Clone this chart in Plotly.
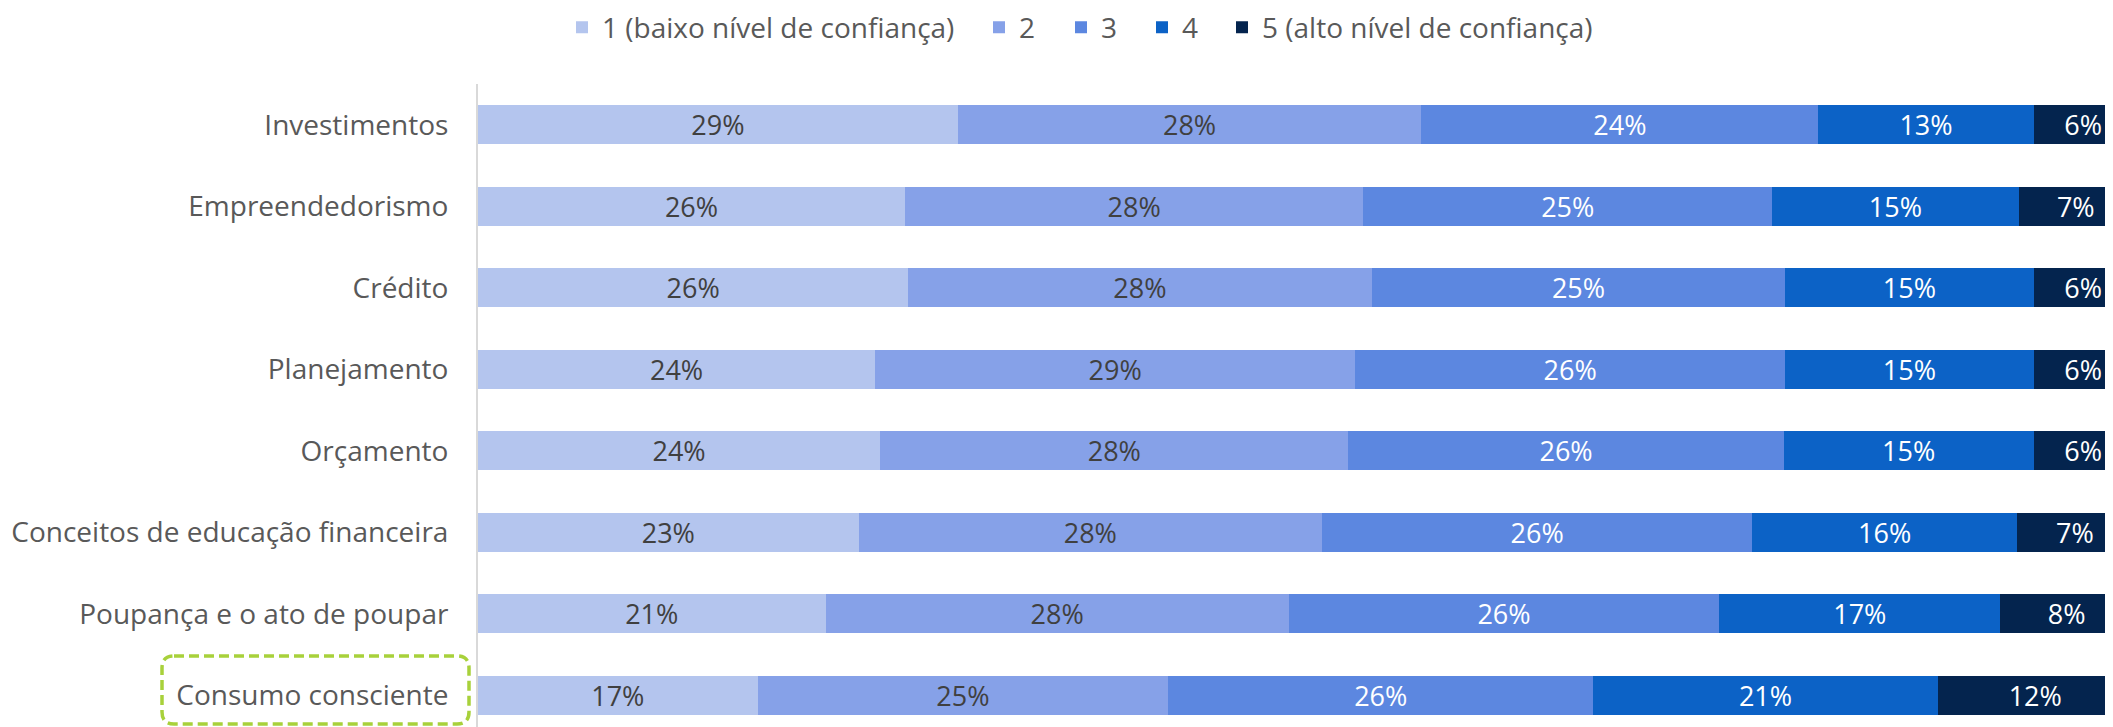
import plotly.graph_objects as go

categories = [
    "Investimentos",
    "Empreendedorismo",
    "Crédito",
    "Planejamento",
    "Orçamento",
    "Conceitos de educação financeira",
    "Poupança e o ato de poupar",
    "Consumo consciente",
]
series_names = [
    "1 (baixo nível de confiança)",
    "2",
    "3",
    "4",
    "5 (alto nível de confiança)",
]
level1 = [29.0, 25.8, 26.0, 24.0, 24.3, 23.0, 21.0, 16.9]
level2 = [28.0, 27.7, 28.0, 29.0, 28.3, 28.0, 28.0, 24.8]
level3 = [24.0, 24.7, 25.0, 26.0, 26.3, 26.0, 26.0, 25.7]
level4 = [13.0, 14.9, 15.0, 15.0, 15.1, 16.0, 17.0, 20.8]
level5 = [6.0, 6.9, 6.0, 6.0, 6.0, 7.0, 8.0, 11.8]

colors = ["#B4C5EE", "#86A1E8", "#5C87E0", "#0C62C6", "#04244E"]
text_colors = ["#404040", "#404040", "#FFFFFF", "#FFFFFF", "#FFFFFF"]

FONT = "Open Sans, Liberation Sans, sans-serif"

# page has an 8px body margin: the figure starts at page (8, 8)
OFF = 8
W, H = 2113 - OFF, 727 - OFF
ml, mt, mb, mr = 478 - OFF, 84 - OFF, 0, 0
pw, ph = W - ml - mr, H - mt - mb


def px_x(page_x):
    return (page_x - OFF - ml) / pw


def px_y(page_y):
    return (H - mb - (page_y - OFF)) / ph


legend_names = ["legend", "legend2", "legend3", "legend4", "legend5"]
# page x where each legend item begins (text begins 40px later)
legend_item_x = [562, 979, 1061, 1142, 1222]

fig = go.Figure()
for name, vals, col, tcol, lg in zip(series_names, [level1, level2, level3, level4, level5],
                                     colors, text_colors, legend_names):
    fig.add_trace(go.Bar(
        y=categories,
        x=vals,
        name=name,
        orientation="h",
        legend=lg,
        marker=dict(color=col, line=dict(width=0)),
        texttemplate="%{x:.0f}%",
        textposition="inside",
        insidetextanchor="middle",
        textangle=0,
        constraintext="none",
        textfont=dict(family=FONT, size=27, color=tcol),
        hoverinfo="skip",
    ))

# dashed rounded box around "Consumo consciente"
x0, x1 = px_x(162), px_x(469)
yt, yb = px_y(656), px_y(724)
rx, ry = 12 / pw, 12 / ph
path = (
    f"M {x0+rx},{yt} L {x1-rx},{yt} Q {x1},{yt} {x1},{yt-ry} "
    f"L {x1},{yb+ry} Q {x1},{yb} {x1-rx},{yb} "
    f"L {x0+rx},{yb} Q {x0},{yb} {x0},{yb+ry} "
    f"L {x0},{yt-ry} Q {x0},{yt} {x0+rx},{yt} Z"
)

legend_common = dict(
    orientation="h",
    yanchor="middle",
    xanchor="left",
    font=dict(family=FONT, size=28, color="#595959"),
    itemwidth=30,
    bgcolor="rgba(0,0,0,0)",
    borderwidth=0,
)
legend_layout = {}
for lg, lx in zip(legend_names, legend_item_x):
    legend_layout[lg] = dict(legend_common, x=px_x(lx), y=px_y(27.5))

fig.update_layout(
    barmode="stack",
    bargap=0.52,
    width=W,
    height=H,
    margin=dict(l=ml, r=mr, t=mt, b=mb, pad=0, autoexpand=False),
    paper_bgcolor="white",
    plot_bgcolor="white",
    font=dict(family=FONT, size=27, color="#595959"),
    showlegend=True,
    xaxis=dict(
        range=[0, 98.8],
        visible=False,
        showgrid=False,
        zeroline=False,
        fixedrange=True,
    ),
    yaxis=dict(
        type="category",
        categoryorder="array",
        categoryarray=categories,
        range=[7.39, -0.5],
        showgrid=False,
        zeroline=False,
        showline=True,
        linecolor="#D9D9D9",
        linewidth=2,
        ticks="",
        ticklabelstandoff=22,
        tickfont=dict(family=FONT, size=28, color="#595959"),
        fixedrange=True,
        automargin=False,
    ),
    shapes=[dict(
        type="path",
        path=path,
        xref="paper",
        yref="paper",
        line=dict(color="#A8D13B", width=3.5, dash="10px,5px"),
        fillcolor="rgba(0,0,0,0)",
        layer="above",
    )],
    **legend_layout,
)

fig.write_html("out.html")
